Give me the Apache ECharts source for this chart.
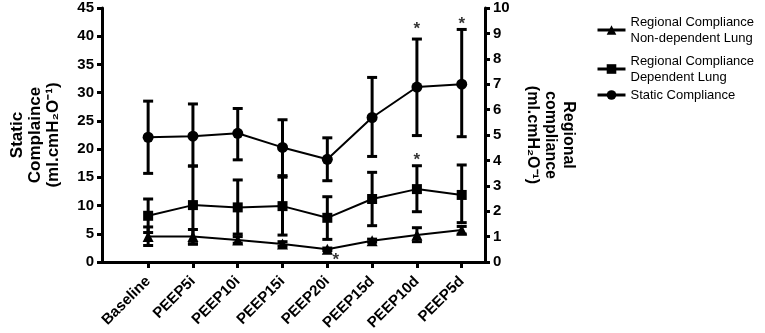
<!DOCTYPE html>
<html>
<head>
<meta charset="utf-8">
<script src="https://cdn.jsdelivr.net/npm/echarts@6/dist/echarts.min.js"></script>
<style>
  html, body { margin: 0; padding: 0; background: #fff; }
  #chart { width: 765px; height: 333px; }
</style>
</head>
<body>
<div id="chart"></div>
<script>
var categories = ['Baseline', 'PEEP5i', 'PEEP10i', 'PEEP15i', 'PEEP20i', 'PEEP15d', 'PEEP10d', 'PEEP5d']

// static compliance, left axis
var staticMean = [22.1, 22.3, 22.8, 20.3, 18.2, 25.6, 31.0, 31.5]
var staticHi = [28.5, 28.0, 27.2, 25.2, 22.0, 32.7, 39.5, 41.2]
var staticLo = [15.7, 17.0, 18.1, 15.3, 14.4, 18.7, 22.4, 22.2]

// regional compliance dependent lung, right axis
var depMean = [1.82, 2.24, 2.15, 2.20, 1.74, 2.48, 2.87, 2.64]
var depHi = [2.48, 3.78, 3.23, 3.34, 2.57, 3.53, 3.79, 3.82]
var depLo = [1.16, 0.70, 1.10, 1.06, 0.89, 1.43, 1.98, 1.55]

// regional compliance non-dependent lung, right axis
var nonMean = [1.00, 1.00, 0.87, 0.71, 0.50, 0.84, 1.06, 1.26]
var nonHi = [1.38, 1.28, 1.00, 0.80, 0.55, 0.90, 1.35, 1.40]
var nonLo = [0.65, 0.72, 0.74, 0.62, 0.45, 0.78, 0.80, 1.10]

// asterisk positions [x index, y value]
var staticStars = [[6, 42.0], [7, 42.8]]
var depStars = [[6, 4.18]]
var nonStars = [[4.19, 0.21]]

var leftTicks = { min: 0, max: 45, interval: 5 }
var rightTicks = { min: 0, max: 10, interval: 1 }

var FONT = 'Liberation Sans, Arial, sans-serif'
var nameNon = 'Regional Compliance\nNon-dependent Lung'
var nameDep = 'Regional Compliance\nDependent Lung'
var nameStatic = 'Static Compliance'

function pairs(arr) {
	return arr.map(function (v, i) { return [i, v] })
}

function errorBars(yIndex, lo, hi) {
	return {
		type: 'custom',
		yAxisIndex: yIndex,
		z: 1,
		silent: true,
		data: lo.map(function (l, i) { return [i, l, hi[i]] }),
		renderItem: function (params, api) {
			var a = api.coord([api.value(0), api.value(1)])
			var b = api.coord([api.value(0), api.value(2)])
			var w = 5
			var st = { stroke: '#000', lineWidth: 3 }
			return {
				type: 'group',
				children: [
					{ type: 'line', shape: { x1: a[0], y1: a[1], x2: b[0], y2: b[1] }, style: st },
					{ type: 'line', shape: { x1: a[0] - w, y1: a[1], x2: a[0] + w, y2: a[1] }, style: st },
					{ type: 'line', shape: { x1: b[0] - w, y1: b[1], x2: b[0] + w, y2: b[1] }, style: st }
				]
			}
		}
	}
}

function stars(yIndex, data) {
	return {
		type: 'scatter',
		yAxisIndex: yIndex,
		symbolSize: 0,
		silent: true,
		data: data,
		label: {
			show: true,
			position: 'inside',
			formatter: '*',
			color: '#000',
			fontFamily: FONT,
			fontWeight: 'bold',
			fontSize: 17,
			offset: [0, 4]
		}
	}
}

function lineSeries(name, yIndex, data, symbol, size) {
	return {
		name: name,
		type: 'line',
		yAxisIndex: yIndex,
		data: pairs(data),
		symbol: symbol,
		symbolSize: size,
		z: 3,
		lineStyle: { color: '#000', width: 2 },
		itemStyle: { color: '#000' }
	}
}

function legendAt(name, top) {
	return {
		data: [name],
		left: 596,
		top: top,
		padding: 0,
		itemWidth: 28,
		itemHeight: 12,
		itemGap: 12,
		selectedMode: false,
		lineStyle: { width: 3 },
		textStyle: { fontFamily: FONT, fontSize: 13, color: '#000', lineHeight: 16 }
	}
}

var axisCommon = {
	axisLine: { show: true, onZero: false, lineStyle: { color: '#000', width: 3 } },
	axisTick: { show: true, inside: false, length: 5, lineStyle: { color: '#000', width: 3 } },
	splitLine: { show: false },
	axisLabel: { color: '#000', fontFamily: FONT, fontWeight: 'bold', fontSize: 15, margin: 8 }
}

var option = {
	animation: false,
	backgroundColor: '#fff',
	grid: { left: 102, right: 280, top: 8, bottom: 71, containLabel: false, outerBoundsMode: 'none' },
	legend: [
		legendAt(nameNon, 14),
		legendAt(nameDep, 53),
		legendAt(nameStatic, 87)
	],
	xAxis: {
		type: 'value',
		min: -1.03,
		max: 7.52,
		axisLine: { show: true, onZero: false, lineStyle: { color: '#000', width: 3 } },
		axisTick: { show: true, length: 6, lineStyle: { color: '#000', width: 3 }, customValues: [0, 1, 2, 3, 4, 5, 6, 7] },
		splitLine: { show: false },
		axisLabel: {
			customValues: [0, 1, 2, 3, 4, 5, 6, 7],
			formatter: function (v) { return categories[Math.round(v)] },
			rotate: 45,
			margin: 17,
			color: '#000',
			fontFamily: FONT,
			fontWeight: 'bold',
			fontSize: 15
		}
	},
	yAxis: [
		Object.assign({}, axisCommon, {
			type: 'value',
			position: 'left',
			min: leftTicks.min,
			max: leftTicks.max,
			interval: leftTicks.interval,
			name: 'Static\nComplaince\n(ml.cmH₂O⁻¹)',
			nameLocation: 'middle',
			nameRotate: 90,
			nameGap: 40,
			nameTextStyle: { color: '#000', fontFamily: FONT, fontWeight: 'bold', fontSize: 17, lineHeight: 18 }
		}),
		Object.assign({}, axisCommon, {
			type: 'value',
			position: 'right',
			min: rightTicks.min,
			max: rightTicks.max,
			interval: rightTicks.interval,
			name: 'Regional\ncompliance\n(ml.cmH₂O⁻¹)',
			nameLocation: 'middle',
			nameRotate: -90,
			nameGap: 38,
			nameTextStyle: { color: '#000', fontFamily: FONT, fontWeight: 'bold', fontSize: 16, lineHeight: 18 }
		})
	],
	series: [
		errorBars(0, staticLo, staticHi),
		errorBars(1, depLo, depHi),
		errorBars(1, nonLo, nonHi),
		lineSeries(nameNon, 1, nonMean, 'triangle', 11),
		lineSeries(nameDep, 1, depMean, 'rect', 10),
		lineSeries(nameStatic, 0, staticMean, 'circle', 11),
		stars(0, staticStars),
		stars(1, depStars),
		stars(1, nonStars)
	]
}

var myChart = echarts.init(document.getElementById('chart'), null, { renderer: 'canvas' })
myChart.setOption(option)
</script>
</body>
</html>
